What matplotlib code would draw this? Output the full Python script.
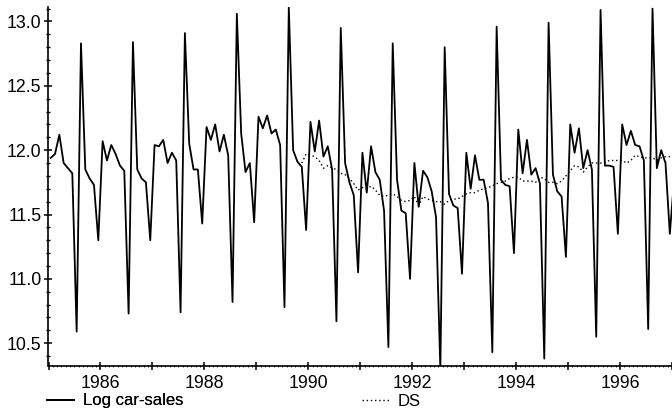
import matplotlib
matplotlib.use("Agg")
import matplotlib.pyplot as plt
import numpy as np
from matplotlib.ticker import MultipleLocator, FuncFormatter, FormatStrFormatter

plt.rcParams["font.family"] = ["Liberation Sans", "DejaVu Sans"]

# monthly log car-sales, Jan 1985 .. Jan 1997
log_sales = [
    11.94, 11.97, 12.12, 11.90, 11.86, 11.82, 10.59, 12.83, 11.85, 11.78, 11.73, 11.30,  # 1985
    12.07, 11.92, 12.04, 11.97, 11.88, 11.84, 10.73, 12.84, 11.85, 11.78, 11.75, 11.30,  # 1986
    12.04, 12.03, 12.08, 11.90, 11.98, 11.92, 10.74, 12.91, 12.05, 11.85, 11.85, 11.43,  # 1987
    12.18, 12.08, 12.20, 11.99, 12.12, 11.96, 10.82, 13.06, 12.13, 11.83, 11.90, 11.44,  # 1988
    12.26, 12.17, 12.27, 12.13, 12.16, 12.04, 10.78, 13.11, 12.00, 11.91, 11.87, 11.38,  # 1989
    12.22, 11.99, 12.23, 11.95, 12.03, 11.85, 10.67, 12.95, 11.90, 11.75, 11.65, 11.05,  # 1990
    11.98, 11.67, 12.03, 11.83, 11.77, 11.53, 10.47, 12.83, 11.77, 11.53, 11.51, 11.00,  # 1991
    11.90, 11.56, 11.84, 11.79, 11.68, 11.48, 10.30, 12.80, 11.66, 11.57, 11.55, 11.04,  # 1992
    11.98, 11.70, 11.96, 11.77, 11.77, 11.59, 10.43, 12.96, 11.77, 11.73, 11.72, 11.20,  # 1993
    12.16, 11.82, 12.08, 11.81, 11.86, 11.74, 10.38, 12.99, 11.81, 11.68, 11.64, 11.17,  # 1994
    12.20, 11.98, 12.17, 11.86, 12.00, 11.85, 10.55, 13.09, 11.88, 11.88, 11.87, 11.35,  # 1995
    12.20, 12.04, 12.15, 12.04, 12.03, 11.92, 10.61, 13.10, 11.86, 12.00, 11.90, 11.35,  # 1996
    11.78,                                                                               # 1997
]

# deseasonalised series, Nov 1989 .. Dec 1996
ds_start_month = 12 * 4 + 10   # months after Jan 1985
ds = [
    11.90, 11.97,                                                                        # 1989
    11.96, 11.95, 11.92, 11.86, 11.88, 11.86, 11.85, 11.82, 11.81, 11.78, 11.74, 11.69,  # 1990
    11.71, 11.70, 11.72, 11.69, 11.65, 11.64, 11.65, 11.66, 11.64, 11.61, 11.60, 11.61,  # 1991
    11.64, 11.57, 11.64, 11.62, 11.61, 11.60, 11.60, 11.58, 11.61, 11.62, 11.62, 11.64,  # 1992
    11.66, 11.67, 11.67, 11.69, 11.70, 11.71, 11.72, 11.74, 11.75, 11.76, 11.78, 11.79,  # 1993
    11.79, 11.76, 11.76, 11.76, 11.75, 11.79, 11.78, 11.75, 11.75, 11.74, 11.76, 11.80,  # 1994
    11.84, 11.88, 11.87, 11.83, 11.87, 11.90, 11.90, 11.90, 11.90, 11.92, 11.92, 11.92,  # 1995
    11.92, 11.90, 11.92, 11.96, 11.95, 11.94, 11.94, 11.94, 11.92, 11.94, 11.95, 11.95,  # 1996
]

# mid-month time stamps
t_sales = 1985 + (np.arange(len(log_sales)) + 0.5) / 12
t_ds = 1985 + (ds_start_month + np.arange(len(ds)) + 0.5) / 12

fig = plt.figure(figsize=(6.72, 4.13), dpi=100)
ax = fig.add_axes([48.5 / 672, 47.3 / 413, 1 - 48.5 / 672, (365.7 - 6.7) / 413])

l1, = ax.plot(t_sales, log_sales, color="black", lw=1.3, label="Log car-sales")
l2, = ax.plot(t_ds, ds, color="black", lw=1.0, ls=(0, (1, 2)), label="DS")

ax.set_xlim(1985, 1997)
ax.set_ylim(10.325, 13.115)

for side in ("top", "right"):
    ax.spines[side].set_visible(False)
for side in ("left", "bottom"):
    ax.spines[side].set_linewidth(1.2)

ax.xaxis.set_major_locator(MultipleLocator(1))
ax.xaxis.set_minor_locator(MultipleLocator(1 / 12))
ax.xaxis.set_major_formatter(FuncFormatter(lambda v, p: f"{int(round(v))}" if round(v) % 2 == 0 else ""))
ax.yaxis.set_major_locator(MultipleLocator(0.5))
ax.yaxis.set_minor_locator(MultipleLocator(0.1))
ax.yaxis.set_major_formatter(FormatStrFormatter("%.1f"))

ax.tick_params(axis="both", which="major", direction="inout", length=6, width=1.1,
               labelsize=12.8, color="black")
ax.tick_params(axis="y", which="major", pad=2)
ax.tick_params(axis="x", which="major", pad=4)
ax.tick_params(axis="y", which="minor", direction="inout", length=3.5, width=1.0)
ax.tick_params(axis="x", which="minor", direction="inout", length=1.2, width=0.6)

leg1 = fig.legend(handles=[l1], loc="center left", bbox_to_anchor=(47 / 672, 1 - 401 / 413),
                  frameon=False, fontsize=12, handlelength=1.6, handletextpad=0.55,
                  borderpad=0, borderaxespad=0)
fig.legend(handles=[l2], loc="center left", bbox_to_anchor=(362 / 672, 1 - 401 / 413),
           frameon=False, fontsize=12, handlelength=1.6, handletextpad=0.55,
           borderpad=0, borderaxespad=0)
fig.add_artist(leg1)

fig.savefig("out.png", dpi=100, facecolor="white")
